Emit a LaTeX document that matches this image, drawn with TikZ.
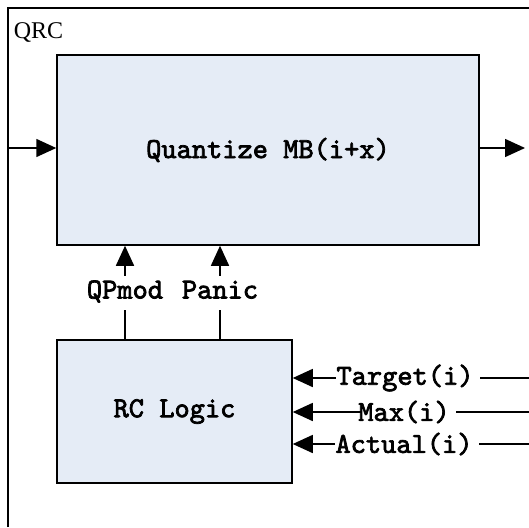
\documentclass[tikz,border=0pt]{standalone}
\usepackage{fontspec}
\setmainfont{Liberation Serif}
\newfontfamily\sigfont{lmmono10-regular.otf}[FakeBold=2.5]
\usetikzlibrary{arrows.meta}
\definecolor{blockblue}{RGB}{229,236,246}

\begin{document}
\begin{tikzpicture}[x=1pt, y=-1pt, line width=1.5pt,
  block/.style={draw, fill=blockblue, inner sep=0pt},
  sig/.style={font=\sigfont\bfseries\fontsize{29}{33}\selectfont, inner sep=0pt},
  tip/.style={-{Triangle[length=20pt,width=18pt]}}]

\useasboundingbox (0,0) rectangle (529,527);

% outer frame (cut off on the right and at the bottom)
\draw (8,527) -- (8,8) -- (529,8);
\node[font=\fontsize{24}{28}\selectfont, anchor=west, inner sep=0pt] (qrc) at (13,32) {QRC};

\node[block, sig, minimum width=422pt, minimum height=190pt] (quant) at (268,150) {Quantize MB(i+x)};
\node[block, sig, minimum width=235pt, minimum height=143pt] (rc) at (174.5,411.5) {RC Logic};

\coordinate (qin) at (8,148);
\coordinate (qout) at (525,148);
\draw[tip] (qin) -- (qin -| quant.west);
\draw[tip] (quant.east |- qout) -- (qout);

% rc outputs
\node[sig, text height=17pt, text depth=6pt, minimum height=33pt] (qpmod) at (125,293) {QPmod};
\node[sig, text height=17pt, text depth=6pt, minimum height=33pt] (panic) at (220,293) {Panic};
\draw[tip] (qpmod.north) -- (qpmod.north |- quant.south);
\draw[tip] (panic.north) -- (panic.north |- quant.south);
\draw (rc.north -| qpmod.south) -- (qpmod.south);
\draw (rc.north -| panic.south) -- (panic.south);

% rc inputs
\coordinate (tin) at (529,378);
\coordinate (min) at (529,412);
\coordinate (ain) at (529,444);
\node[sig, inner xsep=6pt] (target) at (405,378) {Target(i)};
\node[sig, inner xsep=6pt] (max) at (404,412) {Max(i)};
\node[sig, inner xsep=6pt] (actual) at (404,444) {Actual(i)};
\draw (tin) -- (target.east);
\draw (min) -- (max.east);
\draw (ain) -- (actual.east);
\draw[tip] ([xshift=6pt]target.west) -- (rc.east |- target);
\draw[tip] ([xshift=10pt]max.west) -- (rc.east |- max);
\draw[tip] ([xshift=6pt]actual.west) -- (rc.east |- actual);

\end{tikzpicture}
\end{document}
